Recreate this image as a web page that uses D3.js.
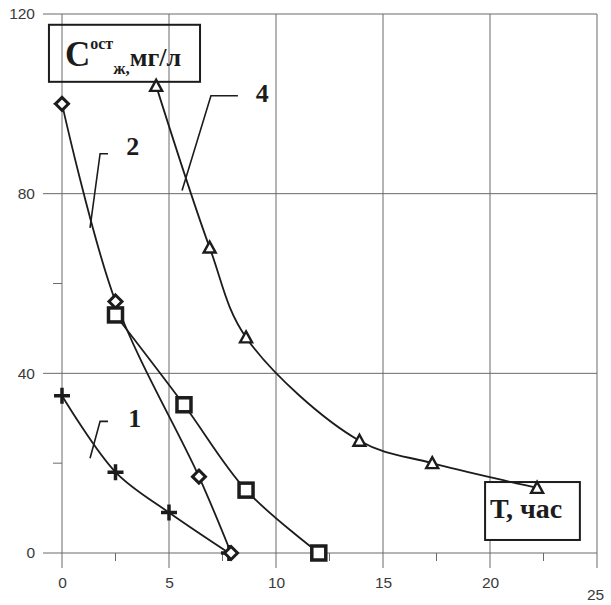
<!DOCTYPE html>
<html>
<head>
<meta charset="utf-8">
<script src="https://cdn.jsdelivr.net/npm/d3@7"></script>
<style>
  body { margin: 0; background: #fff; }
  svg { display: block; }
</style>
</head>
<body>
<script>
// chart values (x = hours, y = mg/l)
var xTicks = [0, 5, 10, 15, 20, 25];
var xMinor = [2.5, 7.5, 12.5, 17.5, 22.5];
var yTicks = [0, 40, 80, 120];
var yMinor = [20, 60, 100];

var series1 = [[0, 35], [2.5, 18], [5, 9], [7.8, 0]];
var series2 = [[0, 100], [2.5, 56], [6.4, 17], [7.9, 0]];
var series3 = [[2.5, 53], [5.7, 33], [8.6, 14], [12, 0]];
var series4 = [[4.4, 104], [6.9, 68], [8.6, 48], [13.9, 25], [17.3, 20], [22.2, 14.5]];

// curve labels and their leader lines, in data units
var curveLabels = ["1", "2", "4"];
var labelPos = [[3.1, 28], [3.0, 88.5], [9.05, 100.5]];
var leaderLines = [
  [[2.15, 29.3], [1.78, 29.3], [1.31, 21.1]],
  [[2.15, 88.9], [1.78, 88.9], [1.31, 72.4]],
  [[8.22, 101.8], [6.96, 101.8], [5.61, 80.7]]
];

var width = 611, height = 605;
var svg = d3.select("body").append("svg")
  .attr("width", width)
  .attr("height", height);

var x = d3.scaleLinear().domain([0, 25]).range([62, 597]);
var y = d3.scaleLinear().domain([0, 120]).range([553, 14]);

var gridColor = "#6a6a6a";
var ink = "#1c1c1c";

// grid lines (extend out past the plot like excel ticks)
svg.selectAll(".vgrid").data(xTicks).enter().append("line")
  .attr("x1", function(d) { return x(d); })
  .attr("x2", function(d) { return x(d); })
  .attr("y1", y(120))
  .attr("y2", y(0) + 15)
  .style("stroke", gridColor).style("stroke-width", 1);

svg.selectAll(".hgrid").data(yTicks).enter().append("line")
  .attr("x1", x(0) - 19)
  .attr("x2", x(25))
  .attr("y1", function(d) { return y(d); })
  .attr("y2", function(d) { return y(d); })
  .style("stroke", gridColor).style("stroke-width", 1);

// minor ticks
svg.selectAll(".xminor").data(xMinor).enter().append("line")
  .attr("x1", function(d) { return x(d); })
  .attr("x2", function(d) { return x(d); })
  .attr("y1", y(0))
  .attr("y2", y(0) + 8)
  .style("stroke", gridColor);

svg.selectAll(".yminor").data(yMinor).enter().append("line")
  .attr("x1", x(0) - 9)
  .attr("x2", x(0))
  .attr("y1", function(d) { return y(d); })
  .attr("y2", function(d) { return y(d); })
  .style("stroke", gridColor);

// tick labels via d3 axes
var xAxis = svg.append("g")
  .attr("transform", "translate(0," + (y(0) + 30) + ")")
  .call(d3.axisBottom(x).tickValues(xTicks).tickSize(0).tickPadding(0));
xAxis.select(".domain").remove();
xAxis.selectAll("text")
  .attr("dy", function(d) { return d === 25 ? "1.1em" : "0.35em"; })
  .attr("dx", function(d) { return d === 25 ? "-2" : "0"; });

var yAxis = svg.append("g")
  .attr("transform", "translate(" + (x(0) - 27) + ",0)")
  .call(d3.axisLeft(y).tickValues(yTicks).tickSize(0).tickPadding(0));
yAxis.select(".domain").remove();

svg.selectAll(".tick text")
  .style("font-family", "'Liberation Sans', Arial, sans-serif")
  .style("font-size", "15.5px")
  .style("fill", "#3a3a3a");

// boxes with axis titles
var cBox = svg.append("g");
cBox.append("rect")
  .attr("x", x(-0.61)).attr("y", y(117.6))
  .attr("width", x(6.45) - x(-0.61)).attr("height", y(104.9) - y(117.6))
  .style("fill", "none").style("stroke", ink).style("stroke-width", 2);
var cText = cBox.append("text")
  .attr("x", x(-0.61) + 16).attr("y", y(117.6) + 41)
  .style("font-family", "'Liberation Serif', 'Times New Roman', serif")
  .style("font-weight", "bold")
  .style("fill", ink);
cText.append("tspan").style("font-size", "35px").text("C");
cText.append("tspan").style("font-size", "16px").attr("dy", -17).text("ост");
cText.append("tspan").style("font-size", "17px").attr("dy", 25).text("ж,");
cText.append("tspan").style("font-size", "26px").attr("dy", -8).text("мг/л");

var tBox = svg.append("g");
tBox.append("rect")
  .attr("x", x(19.77)).attr("y", y(15.8))
  .attr("width", x(24.2) - x(19.77)).attr("height", y(2.9) - y(15.8))
  .style("fill", "#fff").style("stroke", ink).style("stroke-width", 2);
tBox.append("text")
  .attr("x", x(19.77) + 5).attr("y", y(15.8) + 36)
  .style("font-family", "'Liberation Serif', 'Times New Roman', serif")
  .style("font-weight", "bold")
  .style("font-size", "28px")
  .style("fill", ink)
  .text("Т, час");

// curves
var line = d3.line()
  .x(function(d) { return x(d[0]); })
  .y(function(d) { return y(d[1]); })
  .curve(d3.curveCatmullRom.alpha(0.5));

var allSeries = [series1, series2, series3, series4];
allSeries.forEach(function(s) {
  svg.append("path")
    .datum(s)
    .attr("d", line)
    .style("fill", "none")
    .style("stroke", ink)
    .style("stroke-width", 1.8);
});

// markers
svg.selectAll(".plus").data(series1).enter().append("path")
  .attr("transform", function(d) { return "translate(" + x(d[0]) + "," + y(d[1]) + ")"; })
  .attr("d", "M-8,0H8M0,-8V8")
  .style("stroke", ink).style("stroke-width", 3.5);

svg.selectAll(".diamond").data(series2).enter().append("path")
  .attr("transform", function(d) { return "translate(" + x(d[0]) + "," + y(d[1]) + ")"; })
  .attr("d", "M0,-6.5L6.5,0L0,6.5L-6.5,0Z")
  .style("fill", "#fff").style("stroke", ink).style("stroke-width", 3);

svg.selectAll(".square").data(series3).enter().append("rect")
  .attr("x", function(d) { return x(d[0]) - 7; })
  .attr("y", function(d) { return y(d[1]) - 7; })
  .attr("width", 14).attr("height", 14)
  .style("fill", "#fff").style("stroke", ink).style("stroke-width", 3.5);

svg.selectAll(".tri").data(series4).enter().append("path")
  .attr("transform", function(d) { return "translate(" + x(d[0]) + "," + y(d[1]) + ")"; })
  .attr("d", "M0,-6L6,5L-6,5Z")
  .style("fill", "#fff").style("stroke", ink).style("stroke-width", 2.4);

// leader lines and curve numbers
leaderLines.forEach(function(pts) {
  svg.append("path")
    .datum(pts)
    .attr("d", d3.line().x(function(d) { return x(d[0]); }).y(function(d) { return y(d[1]); }))
    .style("fill", "none").style("stroke", ink).style("stroke-width", 1.6);
});

svg.selectAll(".clabel").data(curveLabels).enter().append("text")
  .attr("x", function(d, i) { return x(labelPos[i][0]); })
  .attr("y", function(d, i) { return y(labelPos[i][1]); })
  .style("font-family", "'Liberation Serif', 'Times New Roman', serif")
  .style("font-weight", "bold")
  .style("font-size", "26px")
  .style("fill", ink)
  .text(function(d) { return d; });
</script>
</body>
</html>
